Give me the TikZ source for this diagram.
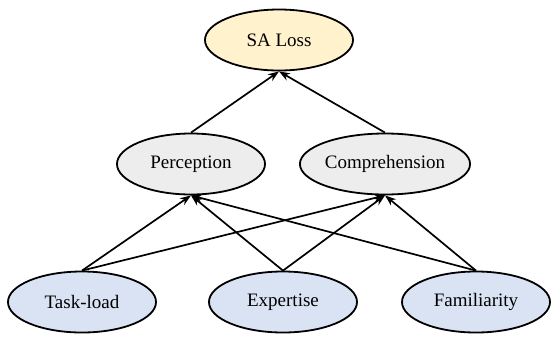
\documentclass[tikz,border=0pt]{standalone}
\usepackage{fontspec}
\setmainfont{Liberation Serif}
\usetikzlibrary{arrows.meta,shapes.geometric}

\definecolor{lossfill}{HTML}{FFF2CC}
\definecolor{midfill}{HTML}{EDEDED}
\definecolor{basefill}{HTML}{DAE3F3}

\begin{document}
\begin{tikzpicture}[x=1pt, y=-1pt,
		state/.style={ellipse,draw,line width=1.8pt,minimum width=148pt,minimum height=61pt,inner sep=0pt,font=\fontsize{19}{22}\selectfont},
		link/.style={line width=1.7pt,-{Stealth[length=11pt,width=8pt]}}]
		\useasboundingbox (0,0) rectangle (552,338);
		\node[state,fill=lossfill] (sa) at (279,40) {SA Loss};
		\node[state,fill=midfill] (per) at (191,164) {Perception};
		\node[state,fill=midfill] (com) at (385,164) {Comprehension};
		\node[state,fill=basefill] (tl) at (82,302) {Task-load};
		\node[state,fill=basefill] (ex) at (283,302) {Expertise};
		\node[state,fill=basefill] (fa) at (476,302) {Familiarity};
		%upper level
		\draw[link] (per.north) to (sa.south);
		\draw[link] (com.north) to (sa.south);
		%lower level
		\foreach \i in {tl,ex,fa} {
			\draw[link] (\i.north) to (per.south);
			\draw[link] (\i.north) to (com.south);
		}
	\end{tikzpicture}
\end{document}
